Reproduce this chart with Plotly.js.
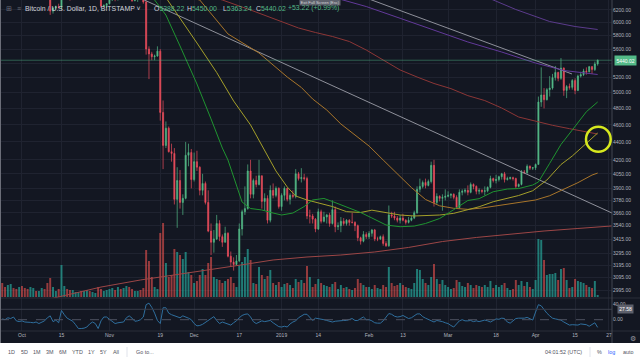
<!DOCTYPE html>
<html><head><meta charset="utf-8">
<script src="https://cdn.plot.ly/plotly-3.0.1.min.js"></script>
<style>html,body{margin:0;padding:0;background:#131722;}#chart{width:640px;height:360px;}</style>
</head><body><div id="chart"></div>
<script>
// ---- daily OHLC, Bitstamp BTC/USD, 2018-09-24 .. 2019-04-23 ----
const open = [
6700,6590,6440,6460,6680,6630,6590,
6620,6580,6510,6470,6570,6610,6570,6590,6660,6640,6590,6180,6230,6250,6240,6450,6450,6430,6380,6380,6400,6410,6390,6390,6410,6390,6400,6410,6400,6260,6270,
6300,6360,6390,6370,6480,6420,6460,6540,6420,6350,6390,6400,6380,6330,5600,5530,5490,5500,5570,4750,4360,4560,4290,4270,3790,3980,3760,3800,4250,4280,
3990,4180,4120,3880,3950,3760,3490,3390,3420,3560,3440,3390,3470,3270,3220,3200,3230,3510,3670,3700,4080,3840,3980,3940,4030,3770,3800,3590,3880,3830,3900,
3720,3830,3900,3790,3830,3820,4050,4000,4010,4000,3630,3630,3600,3510,3670,3580,3620,3640,3560,3690,3530,3540,3580,3560,3590,3570,3570,3540,3430,3400,3460,
3440,3470,3500,3420,3420,3440,3380,3360,3640,3630,3610,3590,3610,3590,3570,3590,3610,3660,3890,3920,3960,3930,3970,4140,3760,3820,3800,3810,
3820,3830,3840,3810,3710,3860,3870,3880,3860,3940,3920,3870,3880,3870,3875,3910,4000,3980,3990,4020,4050,3990,4000,4010,4000,3920,3940,4070,4060,4130,4110,
4115,4150,4880,4970,4910,5040,5060,5200,5270,5190,5330,5030,5080,5070,5160,5030,5220,5240,5290,5280,5350,5310,5388.22];
const high = [
6720,6600,6550,6700,6780,6640,6650,
6640,6610,6520,6600,6640,6620,6600,6700,6680,6650,6600,6250,6270,6300,6800,6480,6470,6460,6410,6410,6440,6420,6400,6460,6420,6420,6420,6420,6410,6290,6310,
6370,6410,6400,6500,6490,6480,6580,6550,6430,6400,6420,6420,6390,6350,5640,5560,5520,5640,5600,4900,4640,4580,4380,4330,4120,4090,3840,4400,4380,4320,
4280,4300,4130,4050,3970,3880,3560,3500,3640,3590,3460,3530,3480,3310,3260,3280,3560,3690,3920,4150,4200,4000,4030,4200,4030,3850,3830,3930,3950,3920,3910,
3850,3920,3900,3850,3880,4100,4070,4110,4050,4020,3690,3650,3610,3700,3690,3670,3650,3660,3780,3720,3570,3620,3610,3600,3600,3660,3580,3550,3440,3490,3480,
3490,3510,3510,3440,3450,3460,3400,3730,3670,3670,3630,3640,3650,3600,3620,3630,3680,3920,4000,3980,4000,3990,4180,4200,3850,3830,3840,3890,
3870,3850,3850,3830,3890,3890,3900,3930,3960,3950,3930,3900,3890,3920,3920,4030,4010,4040,4030,4060,4070,4020,4020,4020,4010,3950,4090,4090,4150,4140,4120,
4160,4950,5340,5060,5060,5220,5250,5360,5280,5470,5340,5100,5120,5180,5190,5240,5280,5320,5340,5360,5360,5420,5450];
const low = [
6550,6400,6410,6450,6530,6500,6530,
6540,6480,6420,6460,6540,6550,6530,6570,6600,6480,6120,6140,6210,6220,6200,6400,6410,6350,6360,6370,6390,6370,6360,6380,6370,6380,6390,6390,6230,6240,6230,
6290,6350,6340,6350,6380,6400,6450,6400,6330,6340,6330,6360,6300,5520,5180,5440,5440,5490,4650,4100,4330,4280,4180,3740,3520,3700,3640,3790,4130,3900,
3970,4080,3830,3830,3740,3480,3280,3300,3410,3400,3350,3390,3260,3180,3150,3190,3220,3450,3640,3690,3800,3800,3910,3930,3700,3680,3560,3570,3800,3810,3700,
3680,3780,3770,3740,3800,3800,3980,3960,3980,3600,3560,3560,3480,3500,3560,3570,3560,3530,3550,3480,3500,3480,3540,3540,3540,3560,3490,3400,3370,3390,3420,
3420,3440,3400,3400,3410,3360,3350,3350,3610,3590,3570,3560,3580,3550,3560,3580,3600,3650,3860,3900,3900,3920,3950,3720,3740,3770,3680,3780,
3810,3800,3790,3700,3700,3830,3850,3830,3850,3890,3840,3840,3850,3830,3860,3900,3960,3950,3970,3990,3960,3980,3990,3980,3900,3910,3930,4050,4050,4090,4090,
4090,4150,4820,4800,4900,4950,5040,5160,5150,5170,4960,4930,5040,5040,4980,5020,5200,5220,5240,5270,5250,5290,5363.24];
const close = [
6590,6440,6460,6680,6630,6590,6620,
6580,6510,6470,6570,6610,6570,6590,6660,6640,6590,6180,6230,6250,6240,6450,6450,6430,6380,6380,6400,6410,6390,6390,6410,6390,6400,6410,6400,6260,6270,6300,
6360,6390,6370,6480,6420,6460,6540,6420,6350,6390,6400,6380,6330,5600,5530,5490,5500,5570,4750,4360,4560,4290,4270,3790,3980,3760,3800,4250,4280,3990,
4180,4120,3880,3950,3760,3490,3390,3420,3560,3440,3390,3470,3270,3220,3200,3230,3510,3670,3700,4080,3840,3980,3940,4030,3770,3800,3590,3880,3830,3900,3720,
3830,3900,3790,3830,3820,4050,4000,4010,4000,3630,3630,3600,3510,3670,3580,3620,3640,3560,3690,3530,3540,3580,3560,3590,3570,3570,3540,3430,3400,3460,3440,
3470,3500,3420,3420,3440,3380,3360,3640,3630,3610,3590,3610,3590,3570,3590,3610,3660,3890,3920,3960,3930,3970,4140,3760,3820,3800,3810,3820,
3830,3840,3810,3710,3860,3870,3880,3860,3940,3920,3870,3880,3870,3875,3910,4000,3980,3990,4020,4050,3990,4000,4010,4000,3920,3940,4070,4060,4130,4110,4115,
4150,4880,4970,4910,5040,5060,5200,5270,5190,5330,5030,5080,5070,5160,5030,5220,5240,5290,5280,5350,5310,5388.22,5440.02];
const volume = [
5600,4000,4800,5200,3600,3200,4000,
4400,3600,3200,4000,3600,2400,2400,3600,3200,5600,7600,4000,2400,3200,12800,4400,3200,2800,2800,2000,2000,2400,2400,2800,2400,2000,1600,4000,3200,2400,2800,
3200,3600,2800,4000,3200,3600,4400,4000,3200,2400,2400,2800,3600,18800,14400,8000,4000,3200,25600,29600,13600,8000,8800,19200,18000,16800,15200,18000,10000,8800,
5600,6400,8800,11200,8800,13600,16000,8000,7200,6800,5600,6400,7200,8000,5600,4000,12800,14000,16000,19200,14800,5600,5200,12000,8800,7200,8400,10800,5600,4800,6000,
4000,5200,5600,4800,3600,7200,6000,6800,5600,12400,8000,4000,5200,7200,5600,4800,4400,4000,5200,6000,3200,4800,3600,4000,3200,2800,3600,7200,5600,4800,4000,
4000,3200,4800,3600,3200,4800,4000,12000,5600,4400,4800,5600,4800,4000,3600,3200,5600,11200,10800,7200,5600,4800,8000,13200,7200,5200,6800,4800,
4000,3200,3600,6800,6000,4400,4000,5600,4800,3600,4800,4400,4000,4800,4000,6400,3600,4800,4000,4800,5600,3600,2800,3200,6800,4800,6400,4400,6000,4000,3200,
6800,23200,22800,14800,8800,9200,9200,9600,6800,11200,11600,6800,3600,4000,7200,6400,6000,5600,4800,4000,3600,6400,800];
const osc = [
2,0,5,3,7,-3,-5,-3,-6,-6,
-7,-8,-6,-10,-6,-3,5,10,-5,-1,
-8,24,13,4,0,-4,-13,-23,-23,-22,
-19,-11,-6,-10,-23,-3,7,7,1,-5,
-10,-8,-7,-6,5,10,4,-4,-3,0,
7,39,43,32,17,-2,-10,31,31,17,
13,11,8,5,10,8,4,0,-10,-16,
-15,-12,-7,0,4,8,-2,-10,-6,-8,
-11,-14,-8,-3,5,11,14,15,7,-5,
-10,-7,-3,-5,-3,-2,-8,-13,-18,-19,
-17,-19,-11,-6,-3,5,10,14,14,7,
-2,4,3,2,0,-2,-5,-6,-4,-3,
-3,-2,-2,1,3,-2,-2,3,7,0,
0,-3,-8,-9,-9,-3,6,16,14,9,
7,8,11,6,3,5,10,15,15,8,
4,0,-3,-6,-2,-3,-5,-8,-10,-15,
-19,-11,-3,0,-3,-3,-2,-5,-3,-5,
-3,-1,-3,-6,-2,2,1,4,3,-6,
-9,-3,3,4,4,4,6,3,-1,20,
39,36,26,17,10,4,2,0,-1,-6,
-10,-14,-13,-13,-14,-11,-12,-13,-17,-13,
-8,-20];

// ---- moving averages / drawn lines ----
const greenDates = ['2018-11-14','2018-11-17','2018-11-21','2018-11-26','2018-12-02','2018-12-07','2018-12-11','2018-12-13','2018-12-16','2018-12-18','2018-12-21','2018-12-25','2018-12-29','2019-01-01','2019-01-05','2019-01-09','2019-01-12','2019-01-16','2019-01-19','2019-01-24','2019-01-29','2019-02-02','2019-02-07','2019-02-12','2019-02-17','2019-02-21','2019-02-26','2019-03-03','2019-03-08','2019-03-12','2019-03-17','2019-03-22','2019-03-26','2019-03-31','2019-04-02','2019-04-06','2019-04-10','2019-04-14','2019-04-19','2019-04-23'];
const greenVals = [6550,6361,6118,5645,5114,4670,4331,4198,3924,3764,3701,3687,3658,3639,3658,3720,3784,3799,3769,3718,3663,3611,3546,3530,3536,3560,3606,3690,3779,3797,3866,3893,3898,3934,3965,4162,4371,4538,4759,4881];
const oliveDates = ['2018-11-14','2018-11-22','2018-12-02','2018-12-09','2018-12-15','2018-12-21','2018-12-27','2018-12-30','2019-01-03','2019-01-06','2019-01-10','2019-01-15','2019-01-19','2019-01-24','2019-01-29','2019-02-02','2019-02-07','2019-02-12','2019-02-17','2019-02-21','2019-02-26','2019-03-03','2019-03-08','2019-03-12','2019-03-17','2019-03-22','2019-03-26','2019-03-31','2019-04-05','2019-04-10','2019-04-14','2019-04-19','2019-04-23'];
const oliveVals = [6900,6340,5689,5269,4893,4598,4253,4080,3914,3823,3784,3749,3720,3671,3663,3685,3661,3639,3630,3636,3639,3655,3692,3718,3767,3801,3828,3876,3985,4149,4242,4384,4503];
const orangeDates = ['2018-11-20','2018-12-03','2018-12-13','2018-12-24','2019-01-03','2019-01-08','2019-01-12','2019-01-17','2019-01-22','2019-01-27','2019-02-01','2019-02-06','2019-02-11','2019-02-16','2019-02-21','2019-02-26','2019-03-03','2019-03-08','2019-03-13','2019-03-18','2019-03-23','2019-03-28','2019-04-01','2019-04-06','2019-04-11','2019-04-16','2019-04-21','2019-04-23'];
const orangeVals = [6500,6361,5824,5543,5208,5068,4919,4780,4610,4485,4353,4198,4048,3908,3789,3727,3703,3693,3706,3725,3745,3762,3784,3826,3893,3958,4037,4058];
const redDates = ['2018-12-01','2018-12-11','2018-12-21','2019-01-01','2019-01-07','2019-01-13','2019-01-19','2019-01-25','2019-01-31','2019-02-06','2019-02-12','2019-02-18','2019-02-24','2019-03-02','2019-03-08','2019-03-14','2019-03-20','2019-03-26','2019-04-01','2019-04-07','2019-04-13','2019-04-19','2019-04-23'];
const redVals = [6500,6361,6198,6015,5915,5846,5786,5711,5586,5443,5304,5208,5121,5053,4962,4899,4805,4694,4640,4594,4554,4515,4491];
const purple1Dates = ['2019-03-10','2019-03-17','2019-03-25','2019-04-06','2019-04-15','2019-04-23'];
const purple1Vals = [6500,6361,6206,6015,5938,5892];
const purple2Dates = ['2019-01-16','2019-01-23','2019-01-31','2019-02-12','2019-02-24','2019-03-08','2019-03-20','2019-04-01','2019-04-11','2019-04-17','2019-04-23'];
const purple2Vals = [6450,6361,6254,6066,5884,5704,5557,5400,5297,5267,5242];
const longDates = ['2018-10-07','2018-10-15','2018-10-29','2018-11-12','2018-11-23','2018-12-05','2018-12-17','2018-12-29','2019-01-10','2019-01-22','2019-02-03','2019-02-15','2019-02-27','2019-03-11','2019-03-23','2019-04-04','2019-04-16','2019-04-23','2019-04-28'];
const longVals = [2907,2946,3018,3074,3110,3151,3194,3238,3263,3280,3306,3345,3397,3433,3464,3491,3514,3527,3537];
const trendADates = ['2018-11-02','2019-04-28 02:00'];
const trendAVals = [6607,3658];
const trendBDates = ['2019-01-21 17:00','2019-04-13 21:36'];
const trendBVals = [6557,5249];
const lastPrice = 5440.02;

const priceTicks = [2995,3095,3195,3295,3415,3540,3660,3780,3900,4050,4200,4400,4600,4800,5000,5200,5400,5600,5800,6000,6200];
const xTickVals = ['2018-10-01','2018-10-15','2018-11-01','2018-11-19','2018-12-01','2018-12-17','2019-01-01','2019-01-14','2019-02-01','2019-02-13','2019-03-01','2019-03-18','2019-04-01','2019-04-15','2019-04-27'];
const xTickText = ['Oct','15','Nov','19','Dec','17','2019','14','Feb','13','Mar','18','Apr','15','27'];

// ---- build ----
const day = 86400000;
const start = Date.UTC(2018, 8, 24);
const dates = open.map((_, i) => new Date(start + i * day).toISOString().slice(0, 10));
const UP = '#53b987', DN = '#eb4d5c';
const volColors = close.map((c, i) => c >= open[i] ? 'rgba(38,166,154,0.7)' : 'rgba(239,83,80,0.6)');
const xRange = ['2018-09-23 05:06', '2019-04-28 01:55'];
const FF = 'Liberation Sans, Arial, sans-serif';
const GRID = '#1f2330';

function ln(xs, ys, color, w, axis, extra) {
  return Object.assign({type: 'scatter', mode: 'lines', x: xs, y: ys, yaxis: axis || 'y2',
    line: {color: color, width: w || 1}, hoverinfo: 'skip'}, extra || {});
}

const traces = [
  {type: 'bar', x: dates, y: volume, yaxis: 'y', marker: {color: volColors, line: {width: 0}}, width: 0.7 * day, hoverinfo: 'skip'},
  ln(longDates, longVals, '#9c4646', 1),
  ln(trendADates, trendAVals, '#8e909a', 1),
  ln(trendBDates, trendBVals, '#8e909a', 1),
  ln(purple1Dates, purple1Vals, '#5b3b8c', 1),
  ln(purple2Dates, purple2Vals, '#62399a', 1),
  ln(redDates, redVals, '#8c3636', 1),
  ln(orangeDates, orangeVals, '#a8752a', 1),
  ln(oliveDates, oliveVals, '#a49f2a', 1),
  ln(greenDates, greenVals, '#1f9430', 1),
  ln(xRange, [lastPrice, lastPrice], 'rgba(83,185,135,0.45)', 1),
  {type: 'candlestick', x: dates, open: open, high: high, low: low, close: close, yaxis: 'y2',
   increasing: {line: {color: UP, width: 0.7}, fillcolor: UP},
   decreasing: {line: {color: DN, width: 0.7}, fillcolor: DN},
   whiskerwidth: 0, hoverinfo: 'skip'},
  ln(dates, osc, '#2f6f9e', 1, 'y3')
];

const PW = 612, PH = 331;
const px = x => x / PW, py = y => (PH - y) / PH;
const dP = py(298);

function ann(x, y, text, size, color, extra) {
  return Object.assign({xref: 'paper', yref: 'paper', x: px(x), y: py(y), text: text, showarrow: false,
    xanchor: 'left', yanchor: 'middle', font: {family: FF, size: size, color: color}}, extra || {});
}
const G = s => '<span style="color:#53b987">' + s + '</span>';

const annotations = [
  ann(4, 8.5, '⊞', 7, '#6a6d78'),
  ann(15, 8.5, '≡', 7, '#6a6d78'),
  ann(22.5, 8.5, 'Bitcoin / U.S. Dollar, 1D, BITSTAMP ˅', 6.9, '#d1d4dc'),
  ann(151.5, 8.5, 'O' + G('5388.22'), 6.9, '#d1d4dc'),
  ann(185, 8.5, 'H' + G('5450.00'), 6.9, '#d1d4dc'),
  ann(221, 8.5, 'L' + G('5363.24'), 6.9, '#d1d4dc'),
  ann(253.5, 8.5, 'C' + G('5440.02'), 6.9, '#d1d4dc'),
  ann(285.5, 8.5, '+53.22 (+0.99%)', 6.9, '#53b987'),
  ann(320, 2.2, 'Exit Full Screen (Esc)', 4, '#d6d7dc', {xanchor: 'center', bgcolor: 'rgba(120,123,134,0.75)', borderpad: 0.6}),
  ann(625.5, 60, '5440.02', 5, '#ffffff', {xanchor: 'center', bgcolor: '#53b987', borderpad: 1.5}),
  ann(625.5, 309.3, '27.58', 5, '#ffffff', {xanchor: 'center', bgcolor: '#5d606b', borderpad: 1.2}),
  ann(633, 338, '⚙', 6.5, '#9598a1', {xanchor: 'center'}),
  // toolbar
  ...[['1D', 11], ['5D', 24], ['1M', 37], ['3M', 50], ['6M', 63], ['YTD', 77], ['1Y', 91], ['5Y', 103], ['All', 116]]
    .map(([t, x]) => ann(x, 352, t, 5.4, '#50535e', {xanchor: 'center'})),
  ann(134, 352, 'Go to...', 5.4, '#50535e'),
  ann(563, 352, '04:01:52 (UTC)', 5.4, '#50535e', {xanchor: 'center'}),
  ann(599.5, 352, '%', 5.4, '#50535e', {xanchor: 'center'}),
  ann(611, 352, 'log', 5.4, '#2962ff', {xanchor: 'center'}),
  ann(628, 352, 'auto', 5.4, '#50535e', {xanchor: 'center'})
];

function hline(y, x0, x1, color, dash, w) {
  return {type: 'line', xref: 'paper', yref: 'paper', x0: px(x0), x1: px(x1), y0: py(y), y1: py(y),
    line: {color: color, width: w || 1, dash: dash || 'solid'}};
}
function vline(x, y0, y1, color, w) {
  return {type: 'line', xref: 'paper', yref: 'paper', x0: px(x), x1: px(x), y0: py(y0), y1: py(y1),
    line: {color: color, width: w || 1}};
}
const shapes = [
  hline(309.3, 0, 612, '#3a3e4a'),
  hline(319.7, 0, 612, '#4e5260', 'dash'),
  hline(298, 0, 640, '#2a2e39'),
  hline(331, 0, 640, '#2a2e39'),
  vline(612, 0, 343, '#434651'),
  vline(0.5, 0, 343, '#6b6e78'),
  {type: 'rect', xref: 'paper', yref: 'paper', x0: px(-2), x1: px(642), y0: py(343), y1: py(362),
   fillcolor: '#ffffff', line: {width: 0}},
  vline(127, 347, 357, '#e0e3eb'),
  vline(590, 347, 357, '#e0e3eb'),
  {type: 'circle', xref: 'paper', yref: 'paper', x0: px(586), x1: px(610.7), y0: py(151.7), y1: py(126.7),
   line: {color: '#d6e81e', width: 2.5}}
];

const layout = {
  width: 640, height: 360,
  margin: {l: 0, r: 28, t: 0, b: 29, pad: 0},
  paper_bgcolor: '#131722', plot_bgcolor: '#131722',
  showlegend: false, boxgap: 0.45,
  font: {family: FF, size: 5, color: '#b2b5be'},
  xaxis: {type: 'date', range: xRange, anchor: 'y3', tickmode: 'array', tickvals: xTickVals, ticktext: xTickText,
    showgrid: true, gridcolor: GRID, ticks: '', showline: false, zeroline: false,
    rangeslider: {visible: false}, tickfont: {family: FF, size: 5, color: '#b2b5be'}, fixedrange: true},
  yaxis: {domain: [dP, 1], range: [-400, 118800], visible: false, fixedrange: true},
  yaxis2: {overlaying: 'y', type: 'log', range: [3.46738, 3.80353], side: 'right', tickmode: 'array',
    tickvals: priceTicks, ticktext: priceTicks.map(v => v === 5400 ? '' : v.toFixed(2)),
    showgrid: true, gridcolor: GRID, ticks: '', showline: false, zeroline: false,
    tickfont: {family: FF, size: 5, color: '#b2b5be'}, fixedrange: true},
  yaxis3: {domain: [0, dP], range: [-29.35, 56.36], side: 'right', tickmode: 'array', tickvals: [0, 40],
    ticktext: ['0.00', '40.00'], showgrid: false, zeroline: false, ticks: '', showline: false,
    tickfont: {family: FF, size: 5, color: '#b2b5be'}, fixedrange: true},
  shapes: shapes,
  annotations: annotations
};

Plotly.newPlot('chart', traces, layout, {staticPlot: true, displayModeBar: false});
</script>
</body></html>
